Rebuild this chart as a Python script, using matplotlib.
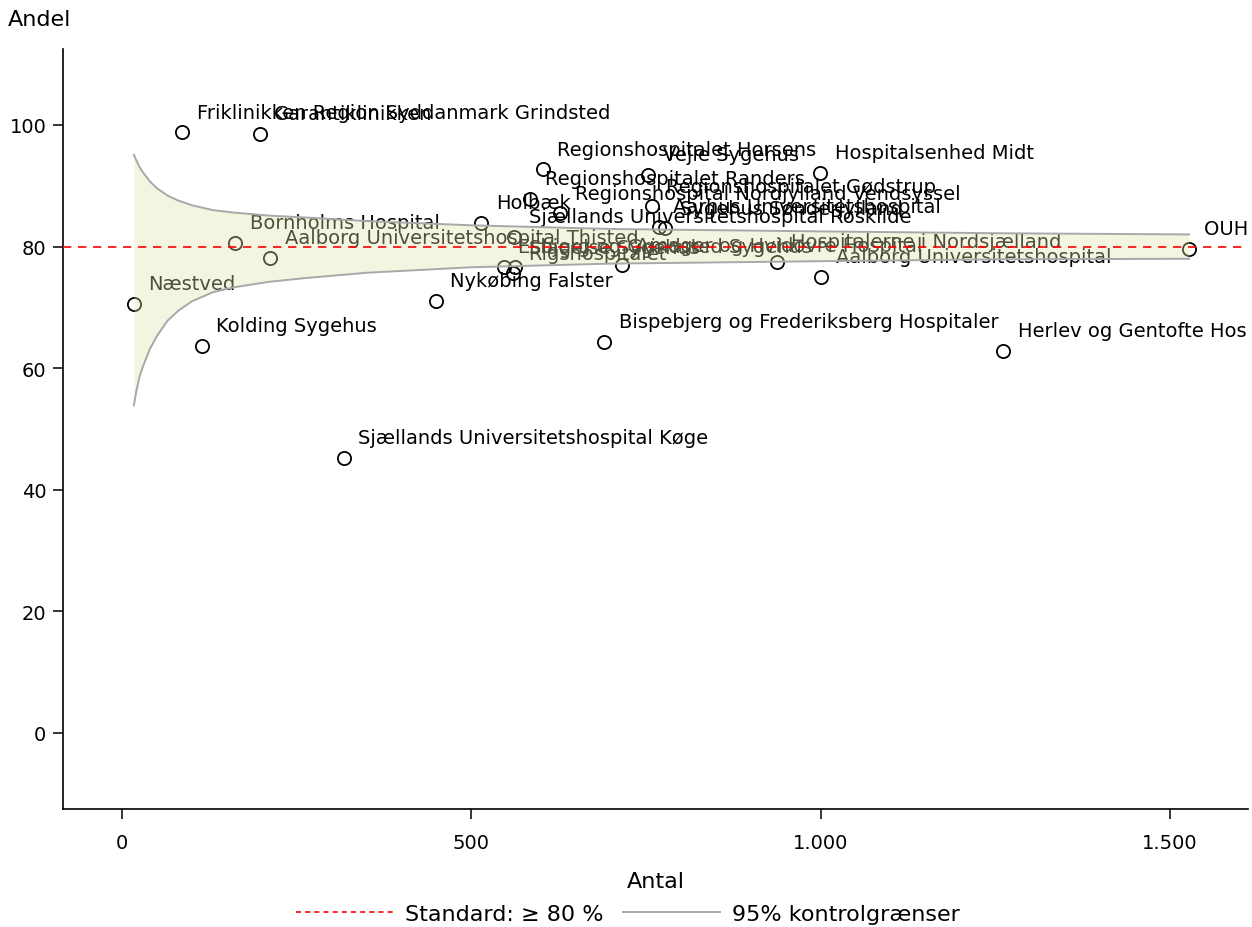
import matplotlib
matplotlib.use("Agg")
import matplotlib.pyplot as plt
from matplotlib.lines import Line2D
from matplotlib.ticker import FuncFormatter, FixedLocator

# ---------------- data ----------------
hospitals = [
    "Næstved",
    "Friklinikken Region Syddanmark Grindsted",
    "Kolding Sygehus",
    "Bornholms Hospital",
    "Garantiklinikken",
    "Aalborg Universitetshospital Thisted",
    "Sjællands Universitetshospital Køge",
    "Nykøbing Falster",
    "Holbæk",
    "Esbjerg og Grindsted Sygehus",
    "Slagelse Sygehus",
    "Rigshospitalet",
    "Sjællands Universitetshospital Roskilde",
    "Regionshospitalet Randers",
    "Regionshospitalet Horsens",
    "Regionshospital Nordjylland Vendsyssel",
    "Bispebjerg og Frederiksberg Hospitaler",
    "Amager og Hvidovre Hospital",
    "Vejle Sygehus",
    "Regionshospitalet Gødstrup",
    "Aarhus Universitetshospital",
    "Sygehus Sønderjylland",
    "Hospitalerne i Nordsjælland",
    "Hospitalsenhed Midt",
    "Aalborg Universitetshospital",
    "Herlev og Gentofte Hospital",
    "OUH Odense Universitetshospital",
]
antal = [17, 86, 114, 162, 197, 212, 317, 449, 514, 546, 562, 560, 561,
         584, 602, 627, 690, 715, 753, 758, 768, 777, 937, 999, 1001, 1261, 1527]
andel = [70.6, 98.8, 63.7, 80.6, 98.5, 78.2, 45.3, 71.1, 83.9, 76.7, 76.6, 75.6, 81.6,
         87.9, 92.7, 85.5, 64.3, 76.9, 91.8, 86.6, 83.3, 83.0, 77.5, 92.1, 75.0, 62.9, 79.6]

# 95% control limits
limit_n = [17, 20, 25, 30, 40, 50, 65, 80, 100, 130, 160, 210, 260, 350, 500, 700, 1000, 1250, 1527]
limit_lower = [53.9, 56.0, 58.6, 60.3, 63.2, 65.3, 67.8, 69.4, 71.0, 72.5, 73.3, 74.2, 74.8,
               75.7, 76.6, 77.2, 77.6, 77.9, 78.0]
limit_upper = [95.1, 94.3, 93.1, 92.2, 90.7, 89.6, 88.4, 87.6, 86.8, 86.0, 85.6, 85.1, 84.8,
               84.2, 83.5, 82.9, 82.5, 82.2, 82.0]
standard = 80

x_ticks = [0, 500, 1000, 1500]
y_ticks = [0, 20, 40, 60, 80, 100]

# ---------------- figure ----------------
plt.rcParams["font.family"] = ["DejaVu Sans"]
FS = 14      # marker labels and tick labels
FS_T = 16    # axis titles and legend
W, H = 1252, 928
fig = plt.figure(figsize=(W / 100, H / 100), dpi=100)
ax = fig.add_axes([63 / W, 1 - 810 / H, (1248 - 63) / W, (810 - 50) / H])

ax.set_xlim(-84.5, 1611.5)
ax.set_ylim(-12.5, 112.5)

ax.plot(antal, andel, linestyle="none", marker="o", markersize=9.5,
        markerfacecolor="none", markeredgecolor="black", markeredgewidth=1.3, zorder=3)

for name, x, y in zip(hospitals, antal, andel):
    ax.annotate(name, (x, y), xytext=(10.5, 14.5), textcoords="offset points",
                ha="left", va="center", fontsize=FS, color="black",
                clip_on=True, zorder=3)

band_color = (225 / 255, 228 / 255, 170 / 255)
ax.fill_between(limit_n, limit_lower, limit_upper, color=band_color, alpha=0.35,
                linewidth=0, zorder=4)
ax.plot(limit_n, limit_upper, color="#a8a8a8", linewidth=1.4, zorder=5)
ax.plot(limit_n, limit_lower, color="#a8a8a8", linewidth=1.4, zorder=5)
ax.axhline(standard, color="red", linestyle=(0, (5, 4)), linewidth=1.2, zorder=6)

for side in ("top", "right"):
    ax.spines[side].set_visible(False)
for side in ("left", "bottom"):
    ax.spines[side].set_linewidth(1.2)

ax.xaxis.set_major_locator(FixedLocator(x_ticks))
ax.yaxis.set_major_locator(FixedLocator(y_ticks))
ax.xaxis.set_major_formatter(FuncFormatter(lambda v, p: f"{int(v):,}".replace(",", ".")))
ax.tick_params(axis="both", direction="out", length=7, width=1.1, labelsize=FS)
ax.tick_params(axis="y", pad=5)
ax.tick_params(axis="x", pad=10.5)

ax.set_xlabel("Antal", fontsize=FS_T, labelpad=13.5)
fig.text(8 / W, 1 - 20 / H, "Andel", ha="left", va="center", fontsize=FS_T)

handles = [Line2D([], [], color="red", linestyle=(0, (3, 2.5)), linewidth=1.2),
           Line2D([], [], color="#a8a8a8", linewidth=1.4)]
fig.legend(handles, ["Standard: ≥ 80 %", "95% kontrolgrænser"], loc="center",
           bbox_to_anchor=(628 / W, 1 - 915 / H), ncol=2, frameon=False, fontsize=FS_T,
           handlelength=4.35, handletextpad=0.55, columnspacing=0.9)

fig.savefig("out.png", dpi=100)
